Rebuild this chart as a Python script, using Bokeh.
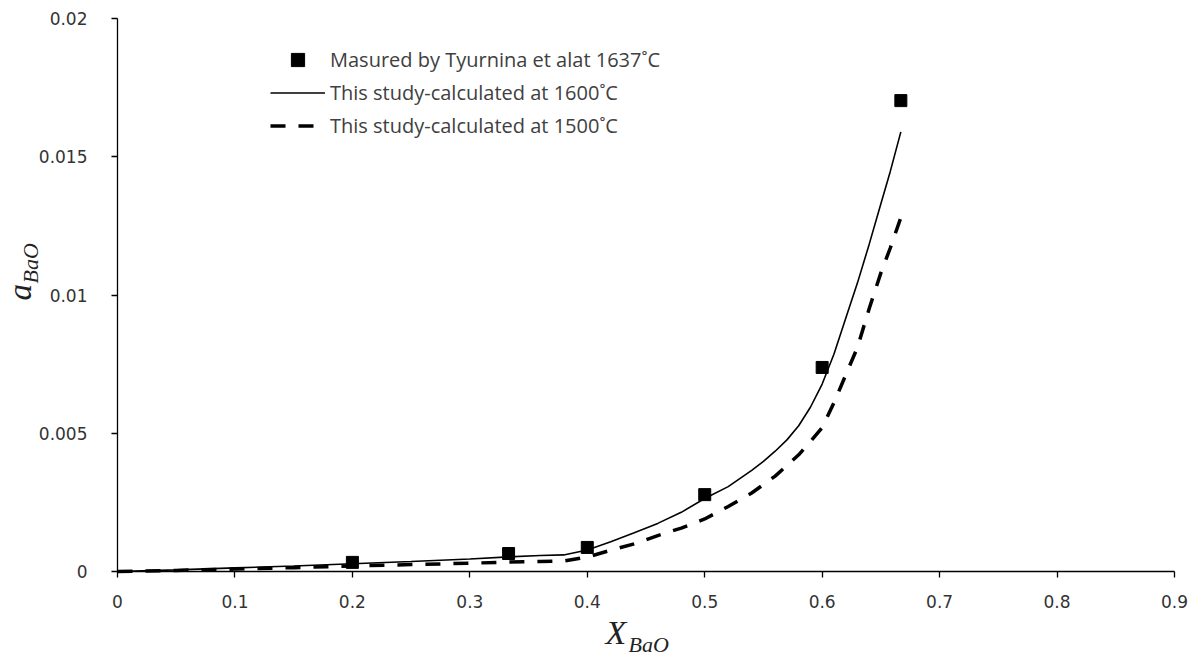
from bokeh.plotting import figure
from bokeh.models import Range1d, Legend, LegendItem, Label, FixedTicker
from bokeh.embed import file_html
from bokeh.resources import INLINE

# Measured BaO activity (Tyurnina et al., 1637 C)
x_measured = [0.2, 0.333, 0.4, 0.5, 0.6, 0.667]
a_measured = [0.00033, 0.00065, 0.00087, 0.00278, 0.00738, 0.01703]

# Calculated activity at 1600 C
x_1600 = [0, 0.05, 0.1, 0.15, 0.2, 0.25, 0.3, 0.333, 0.36, 0.38, 0.4, 0.42,
          0.44, 0.46, 0.48, 0.5, 0.52, 0.54, 0.55, 0.56, 0.57, 0.58, 0.59,
          0.6, 0.61, 0.62, 0.63, 0.64, 0.65, 0.658, 0.667]
a_1600 = [0, 0.00006, 0.00013, 0.0002, 0.00028, 0.00036, 0.00045, 0.00053,
          0.00058, 0.0006, 0.00078, 0.00108, 0.0014, 0.00174, 0.00214,
          0.00264, 0.00307, 0.00366, 0.00398, 0.00435, 0.00476, 0.00527,
          0.00594, 0.00678, 0.00786, 0.00915, 0.01043, 0.01183, 0.0133,
          0.01447, 0.0159]

# Calculated activity at 1500 C
x_1500 = [0, 0.05, 0.1, 0.15, 0.2, 0.25, 0.3, 0.333, 0.36, 0.38, 0.4, 0.42,
          0.44, 0.46, 0.48, 0.5, 0.52, 0.54, 0.56, 0.58, 0.59, 0.6, 0.61,
          0.62, 0.63, 0.64, 0.65, 0.658, 0.667]
a_1500 = [0, 0.00004, 0.00009, 0.00014, 0.0002, 0.00025, 0.0003, 0.00034,
          0.00036, 0.00038, 0.00052, 0.00077, 0.001, 0.0013, 0.00157, 0.0019,
          0.00235, 0.00284, 0.00345, 0.00422, 0.0047, 0.0052, 0.0061, 0.0071,
          0.0081, 0.0095, 0.0108, 0.0117, 0.0128]

x_ticks = [0, 0.1, 0.2, 0.3, 0.4, 0.5, 0.6, 0.7, 0.8, 0.9]
y_ticks = [0, 0.005, 0.01, 0.015, 0.02]
x_tick_text = {0: "0", 0.1: "0.1", 0.2: "0.2", 0.3: "0.3", 0.4: "0.4",
               0.5: "0.5", 0.6: "0.6", 0.7: "0.7", 0.8: "0.8", 0.9: "0.9"}
y_tick_text = {0: "0", 0.005: "0.005", 0.01: "0.01", 0.015: "0.015",
               0.02: "0.02"}

legend_labels = [
    "Masured by Tyurnina et alat 1637˚C",
    "This study-calculated at 1600˚C",
    "This study-calculated at 1500˚C",
]

# Canvas geometry: the frame fills the whole canvas and the axes sit at the
# origin, so the axis titles can be placed freely around the data area.
W, H = 1200, 659
left, right, top, bottom = 117, 26, 18, 88
x_min, x_max = 0.0, 0.9
y_min, y_max = 0.0, 0.02
kx = (W - left - right) / (x_max - x_min)
ky = (H - top - bottom) / (y_max - y_min)


def to_x(px):
    return x_min + (px - left) / kx


def to_y(py):
    return y_min + (H - bottom - py) / ky


p = figure(width=W, height=H, output_backend="svg", toolbar_location=None,
           x_range=Range1d(to_x(0), to_x(W)), y_range=Range1d(to_y(H), to_y(0)),
           min_border=0)
p.outline_line_color = None
p.xgrid.visible = False
p.ygrid.visible = False
p.background_fill_color = "white"
p.border_fill_color = "white"

tick_color = "#333333"
for ax in (p.xaxis[0], p.yaxis[0]):
    ax.fixed_location = 0
    ax.axis_line_color = "black"
    ax.axis_line_width = 1.3
    ax.major_tick_line_color = "black"
    ax.major_tick_line_width = 1.3
    ax.major_tick_in = 0
    ax.major_tick_out = 6
    ax.minor_tick_line_color = None
    ax.major_label_text_font = "DejaVu Sans"
    ax.major_label_text_font_size = "17px"
    ax.major_label_text_color = tick_color

p.xaxis.bounds = (x_min, x_max)
p.yaxis.bounds = (y_min, y_max)
p.xaxis.ticker = FixedTicker(ticks=x_ticks)
p.yaxis.ticker = FixedTicker(ticks=y_ticks)
p.xaxis.major_label_overrides = x_tick_text
p.yaxis.major_label_overrides = y_tick_text
p.xaxis.major_label_standoff = 17
p.yaxis.major_label_standoff = 24

r_1600 = p.line(x_1600, a_1600, line_color="black", line_width=1.6)
r_1500 = p.line(x_1500, a_1500, line_color="black", line_width=3.5,
                line_dash="15 13")
r_meas = p.scatter(x_measured, a_measured, marker="square", size=12,
                   fill_color="black", line_color="black")

legend = Legend(items=[
    LegendItem(label=legend_labels[0], renderers=[r_meas]),
    LegendItem(label=legend_labels[1], renderers=[r_1600]),
    LegendItem(label=legend_labels[2], renderers=[r_1500]),
], location=(270, H - 142))
legend.border_line_color = None
legend.background_fill_alpha = 0
legend.padding = 0
legend.spacing = 0
legend.margin = 0
legend.glyph_width = 55
legend.glyph_height = 33
legend.label_height = 33
legend.label_standoff = 5
legend.label_text_font = "Open Sans"
legend.label_text_font_size = "20px"
legend.label_text_color = "#404040"
p.add_layout(legend)

# Axis titles: italic letter with an italic subscript. Each part is anchored
# at the middle of its text box, placed from the wanted baseline position.
title_font = "Liberation Serif"
title_color = "#222222"
mid_shift = 0.3375  # (ascent - descent) / 2, in em


def title_part(base_x, base_y, text, size_px, vertical=False):
    shift = mid_shift * size_px
    if vertical:
        ax_, ay_, angle = base_x - shift, base_y, 1.5708
    else:
        ax_, ay_, angle = base_x, base_y - shift, 0.0
    p.add_layout(Label(x=to_x(ax_), y=to_y(ay_), text=text, angle=angle,
                       text_font=title_font, text_font_style="italic",
                       text_font_size=f"{size_px}px", text_color=title_color,
                       text_align="left", text_baseline="middle"))


title_part(31, 300, "a", 33, vertical=True)
title_part(37, 283, "BaO", 22, vertical=True)
title_part(605, 643, "X", 34)
title_part(628, 651, "BaO", 22)

open("out.html", "w").write(file_html(p, INLINE))
